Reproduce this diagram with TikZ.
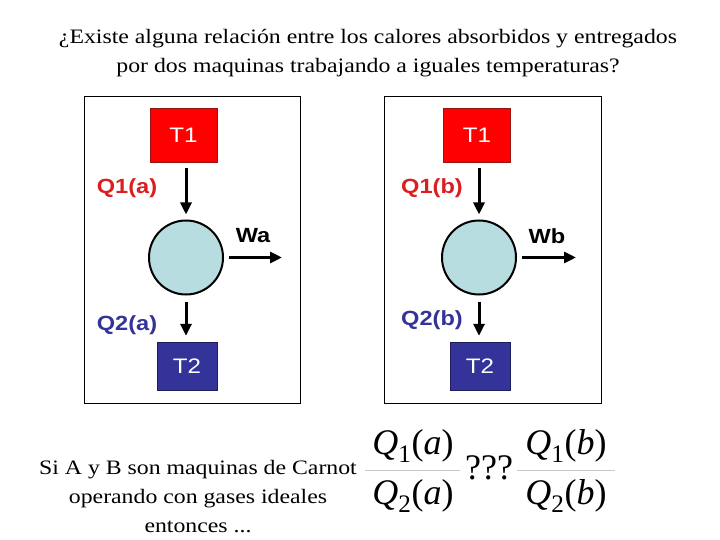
\documentclass[tikz,border=0pt]{standalone}
\usepackage{fontspec}
\setmainfont{Liberation Serif}
\newfontfamily\wideserif[FakeStretch=1.16]{Liberation Serif}
\newfontfamily\arialfont[FakeStretch=1.15]{Liberation Sans}
\usetikzlibrary{arrows.meta}
\definecolor{hotred}{RGB}{255,0,0}
\definecolor{hotedge}{RGB}{150,20,20}
\definecolor{coldblue}{RGB}{51,51,153}
\definecolor{coldedge}{RGB}{30,30,90}
\definecolor{labred}{RGB}{220,30,30}
\definecolor{enginefill}{RGB}{184,221,224}
\definecolor{fracbar}{RGB}{200,200,200}
\tikzset{
  panel/.style={draw=black, line width=0.8pt, fill=white},
  hotbox/.style={draw=hotedge, fill=hotred, text=white, minimum width=67pt, minimum height=54pt, inner sep=0pt, font=\arialfont\fontsize{21}{24}\selectfont},
  coldbox/.style={draw=coldedge, fill=coldblue, text=white, minimum width=60pt, minimum height=48pt, inner sep=0pt, font=\arialfont\fontsize{21}{24}\selectfont},
  engine/.style={circle, draw=black, line width=2pt, fill=enginefill, minimum size=74pt, inner sep=0pt},
  flow/.style={line width=3pt, -{Triangle[length=12pt,width=11pt]}},
  heatlab/.style={font=\arialfont\bfseries\fontsize{20.5}{24}\selectfont},
  serif/.style={font=\wideserif\fontsize{20.5}{29}\selectfont, align=center},
  eqn/.style={font=\fontsize{36}{40}\selectfont, inner sep=0pt}
}
\begin{document}
\begin{tikzpicture}[x=1pt, y=-1pt]
\useasboundingbox (0,0) rectangle (720,540);
% title
\node[serif] (title) at (368,53) {¿Existe alguna relación entre los calores absorbidos y entregados\\por dos maquinas trabajando a iguales temperaturas?};
% engine A
\draw[panel] (84,96) rectangle (300,403);
\node[hotbox] (t1a) at (183.5,135) {T1};
\node[engine] (ea) at (186,257.5) {};
\node[coldbox] (t2a) at (187,366) {T2};
\coordinate (wa) at (282,257.5);
\draw[flow, shorten <=6pt, shorten >=5pt] (ea |- t1a.south) -- (ea.north);
\draw[flow, shorten <=6pt, shorten >=6pt] (ea.south) -- (ea |- t2a.north);
\draw[flow, shorten <=5pt] (ea.east) -- (wa);
\node[heatlab, text=labred] (q1a) at (127,188) {Q1(a)};
\node[heatlab, text=coldblue] (q2a) at (127,325) {Q2(a)};
\node[heatlab] (wla) at (253,236) {Wa};
% engine B
\draw[panel] (384,96) rectangle (601,403);
\node[hotbox] (t1b) at (477,135) {T1};
\node[engine] (eb) at (479,257.5) {};
\node[coldbox] (t2b) at (480,366) {T2};
\coordinate (wb) at (576,257.5);
\draw[flow, shorten <=6pt, shorten >=5pt] (eb |- t1b.south) -- (eb.north);
\draw[flow, shorten <=6pt, shorten >=6pt] (eb.south) -- (eb |- t2b.north);
\draw[flow, shorten <=5pt] (eb.east) -- (wb);
\node[heatlab, text=labred] (q1b) at (432,188) {Q1(b)};
\node[heatlab, text=coldblue] (q2b) at (432,320) {Q2(b)};
\node[heatlab] (wlb) at (547,236) {Wb};
% bottom question
\node[serif] (carnot) at (198,497) {Si A y B son maquinas de Carnot\\operando con gases ideales\\entonces ...};
\node[eqn] (numa) at (413,446) {\textit{Q}\textsubscript{1}(\textit{a})};
\node[eqn] (dena) at (413,496) {\textit{Q}\textsubscript{2}(\textit{a})};
\draw[fracbar, line width=0.6pt] (365,470) -- (460,470);
\node[eqn] (ask) at (489,468) {???};
\node[eqn] (numb) at (566,446) {\textit{Q}\textsubscript{1}(\textit{b})};
\node[eqn] (denb) at (566,496) {\textit{Q}\textsubscript{2}(\textit{b})};
\draw[fracbar, line width=0.6pt] (517,470) -- (615,470);
\end{tikzpicture}
\end{document}
